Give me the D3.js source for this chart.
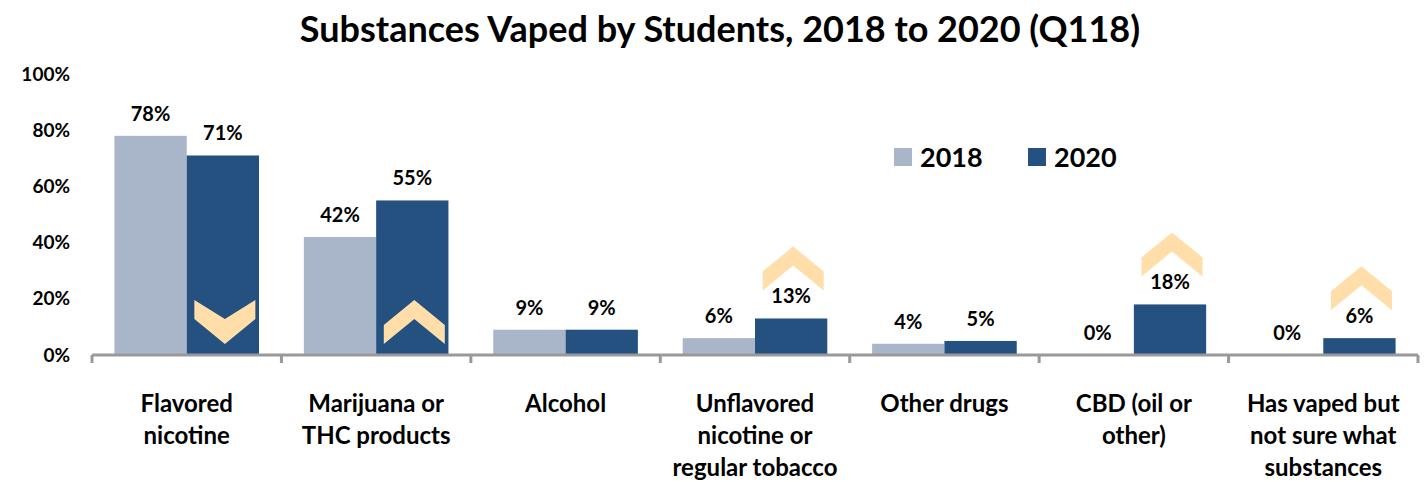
<!DOCTYPE html>
<html>
<head>
<meta charset="utf-8">
<script src="https://cdn.jsdelivr.net/npm/d3@7"></script>
<style>
  body { margin: 0; background: #fff; }
  svg text { font-family: Lato, "Open Sans", sans-serif; font-weight: bold; fill: #000; }
</style>
</head>
<body>
<svg id="chart" width="1428" height="482"></svg>
<script>
var categories = [
  ["Flavored", "nicotine"],
  ["Marijuana or", "THC products"],
  ["Alcohol"],
  ["Unflavored", "nicotine or", "regular tobacco"],
  ["Other drugs"],
  ["CBD (oil or", "other)"],
  ["Has vaped but", "not sure what", "substances"]
];
var years = ["2018", "2020"];
var values2018 = [78, 42, 9, 6, 4, 0, 0];
var values2020 = [71, 55, 9, 13, 5, 18, 6];
var yTicks = [0, 20, 40, 60, 80, 100];
// change markers on the 2020 bar: category index, direction
var markers = [[0, "down"], [1, "up"], [3, "up"], [5, "up"], [6, "up"]];

var colors = {"2018": "#a9b6c9", "2020": "#24517f"};

var svg = d3.select("#chart"),
    margin = {top: 74, left: 92, right: 10, bottom: 127},
    width = 1418 - margin.left,
    height = 355 - margin.top,
    g = svg.append("g").attr("transform", "translate(" + margin.left + "," + margin.top + ")");

svg.append("text")
    .attr("x", 720).attr("y", 42)
    .attr("text-anchor", "middle")
    .attr("font-size", 36)
    .text("Substances Vaped by Students, 2018 to 2020 (Q118)");

var idx = d3.range(categories.length);

var x0 = d3.scaleBand().domain(idx).range([0, width]).padding(0);
var x1 = d3.scaleBand().domain(years).range([0, x0.bandwidth()]).paddingInner(0).paddingOuter(0.31);
var y = d3.scaleLinear().domain([0, 100]).range([height, 0]);

// y tick labels (no axis line)
g.append("g").selectAll("text")
  .data(yTicks)
  .enter().append("text")
    .attr("x", -22)
    .attr("y", function(d) { return y(d); })
    .attr("dy", "0.35em")
    .attr("text-anchor", "end")
    .attr("font-size", 19)
    .text(function(d) { return d + "%"; });

var rows = idx.map(function(i) { return {i: i, "2018": values2018[i], "2020": values2020[i]}; });

var groups = g.append("g").selectAll("g")
  .data(rows)
  .enter().append("g")
    .attr("transform", function(d) { return "translate(" + x0(d.i) + ",0)"; });

var cells = groups.selectAll("g")
  .data(function(d) { return years.map(function(k) { return {key: k, value: d[k], i: d.i}; }); })
  .enter().append("g");

cells.append("rect")
    .attr("x", function(d) { return x1(d.key); })
    .attr("y", function(d) { return y(d.value); })
    .attr("width", x1.bandwidth())
    .attr("height", function(d) { return height - y(d.value); })
    .attr("fill", function(d) { return colors[d.key]; });

cells.append("text")
    .attr("x", function(d) { return x1(d.key) + x1.bandwidth() / 2; })
    .attr("y", function(d) { return y(d.value) - 15; })
    .attr("text-anchor", "middle")
    .attr("font-size", 20)
    .text(function(d) { return d.value + "%"; });

// chevrons
function chevron(dir) {
  var w = 30.5, h = 44, s = 25, t = 19;
  if (dir == "up")
    return [[0,0],[w,s],[w,h],[0,t],[-w,h],[-w,s]];
  return [[-w,0],[0,h-s],[w,0],[w,h-s],[0,h],[-w,h-s]];
}
g.append("g").selectAll("path")
  .data(markers)
  .enter().append("path")
    .attr("fill", "#ffdeaa")
    .attr("d", function(d) { return "M" + chevron(d[1]).join("L") + "Z"; })
    .attr("transform", function(d) {
      var v = values2020[d[0]];
      var cx = x0(d[0]) + x1("2020") + x1.bandwidth() / 2 + 2;
      var top = (height - y(v) > 120) ? height - 55 : y(v) - 72;
      return "translate(" + cx + "," + top + ")";
    });

// x axis
var axis = g.append("g").attr("transform", "translate(0," + height + ")");
axis.append("line")
    .attr("x1", 0).attr("x2", width)
    .attr("stroke", "#999").attr("stroke-width", 3);
axis.selectAll(".tick")
  .data(d3.range(categories.length + 1))
  .enter().append("line")
    .attr("x1", function(d) { return d * x0.step(); })
    .attr("x2", function(d) { return d * x0.step(); })
    .attr("y1", 0).attr("y2", 8)
    .attr("stroke", "#999").attr("stroke-width", 3);

axis.selectAll(".cat")
  .data(rows)
  .enter().append("text")
    .attr("text-anchor", "middle")
    .attr("font-size", 24)
    .attr("transform", function(d) { return "translate(" + (x0(d.i) + x0.bandwidth() / 2) + ",57)"; })
  .selectAll("tspan")
  .data(function(d) { return categories[d.i]; })
  .enter().append("tspan")
    .attr("x", 0)
    .attr("y", function(d, j) { return j * 32; })
    .text(function(d) { return d; });

// legend
var legend = svg.append("g").selectAll("g")
  .data(years)
  .enter().append("g")
    .attr("transform", function(d, i) { return "translate(" + (894 + i * 134) + ",148)"; });
legend.append("rect")
    .attr("width", 18).attr("height", 18)
    .attr("fill", function(d) { return colors[d]; });
legend.append("text")
    .attr("x", 26).attr("y", 19)
    .attr("font-size", 27)
    .text(function(d) { return d; });
</script>
</body>
</html>
